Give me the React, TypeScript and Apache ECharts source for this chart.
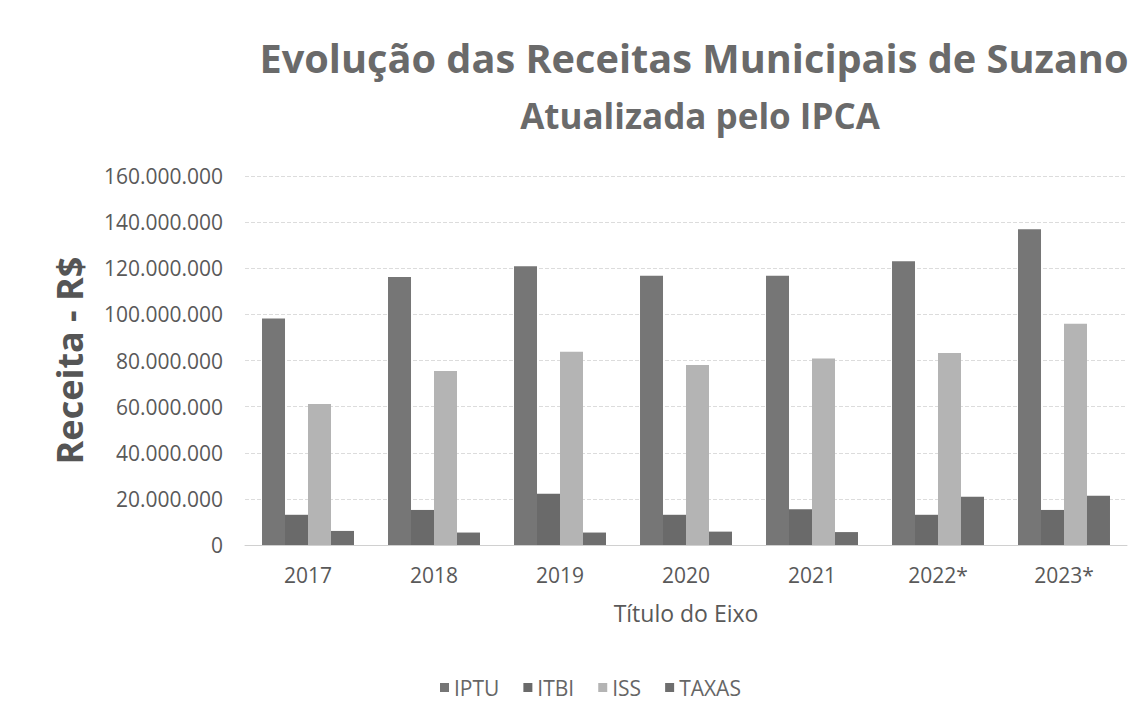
import React, { useEffect, useRef } from "react";
import * as echarts from "echarts";

const categories = ["2017", "2018", "2019", "2020", "2021", "2022*", "2023*"];
const iptu = [98200000, 116200000, 120900000, 116700000, 116700000, 123000000, 136900000];
const itbi = [13100000, 15200000, 22200000, 13100000, 15500000, 13100000, 15200000];
const iss = [61100000, 75500000, 83800000, 78000000, 80900000, 83300000, 95900000];
const taxas = [6100000, 5400000, 5400000, 5800000, 5600000, 20900000, 21400000];
const seriesNames = ["IPTU", "ITBI", "ISS", "TAXAS"];
const seriesColors = ["#767676", "#6a6a6a", "#b4b4b4", "#6e6e6e"];

const fmt = (v: number) => String(Math.round(v)).replace(/\B(?=(\d{3})+(?!\d))/g, ".");

export default function App() {
  const ref = useRef<HTMLDivElement>(null);
  useEffect(() => {
    if (!ref.current) return;
    const chart = echarts.init(ref.current, undefined, { renderer: "svg" });
    const font = "'Open Sans', 'Noto Sans', sans-serif";
    const data = [iptu, itbi, iss, taxas];
    chart.setOption({
      animation: false,
      backgroundColor: "#ffffff",
      textStyle: { fontFamily: font },
      title: [
        {
          text: "Evolução das Receitas Municipais de Suzano",
          left: 689,
          textAlign: "center",
          top: 33,
          textStyle: { fontFamily: font, fontSize: 39.7, fontWeight: "bold", color: "#6a6a6a" },
        },
        {
          text: "Atualizada pelo IPCA",
          left: 695,
          textAlign: "center",
          top: 93,
          textStyle: { fontFamily: font, fontSize: 35, fontWeight: "bold", color: "#6a6a6a" },
        },
      ],
      legend: {
        data: seriesNames,
        left: 435,
        top: 672,
        icon: "rect",
        itemWidth: 9,
        itemHeight: 9,
        itemGap: 24,
        textStyle: { fontFamily: font, fontSize: 21, color: "#666" },
      },
      grid: { left: 245, right: 21, top: 176, bottom: 171, containLabel: false },
      xAxis: {
        type: "category",
        data: categories,
        name: "Título do Eixo",
        nameLocation: "middle",
        nameGap: 56,
        nameTextStyle: { fontFamily: font, fontSize: 23, color: "#595959" },
        axisLine: { lineStyle: { color: "#d0d0d0" } },
        axisTick: { show: false },
        axisLabel: { fontFamily: font, fontSize: 21, color: "#595959", margin: 19 },
      },
      yAxis: {
        type: "value",
        min: 0,
        max: 160000000,
        interval: 20000000,
        name: "Receita - R$",
        nameLocation: "middle",
        nameGap: 158,
        nameTextStyle: { fontFamily: font, fontSize: 36, fontWeight: "bold", color: "#555" },
        axisLabel: { fontFamily: font, fontSize: 21, color: "#595959", margin: 22, formatter: (v: number) => fmt(v) },
        splitLine: { lineStyle: { color: "#dcdcdc", type: "dashed" } },
        axisLine: { show: false },
        axisTick: { show: false },
      },
      series: seriesNames.map((name, i) => ({
        name,
        type: "bar",
        data: data[i],
        barGap: "0%",
        barCategoryGap: "27%",
        itemStyle: { color: seriesColors[i] },
      })),
    });
    return () => chart.dispose();
  }, []);
  return <div ref={ref} style={{ position: "fixed", left: 0, top: 0, width: 1148, height: 716 }} />;
}
